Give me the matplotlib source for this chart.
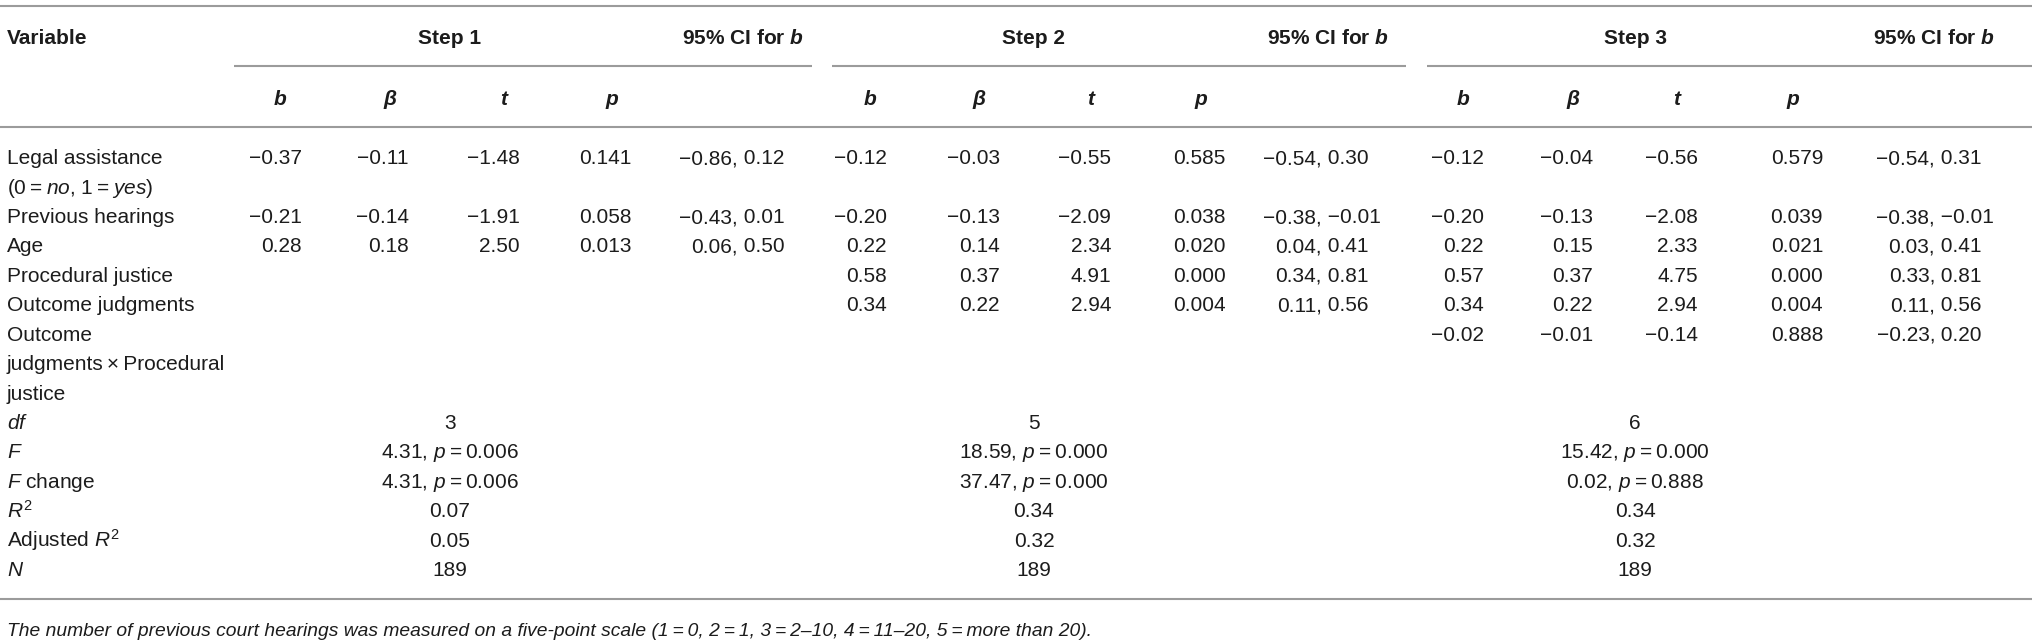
import matplotlib
matplotlib.use("Agg")
import matplotlib.pyplot as plt

# ---------------- data ----------------
var_labels = [
    ["Legal assistance", "(0\u2009=\u2009$\\mathit{no}$, 1\u2009=\u2009$\\mathit{yes}$)"],
    ["Previous hearings"],
    ["Age"],
    ["Procedural justice"],
    ["Outcome judgments"],
    ["Outcome", "judgments\u2009\u00d7\u2009Procedural", "justice"],
]
row_slots = [0, 2, 3, 4, 5, 6]   # line index of each variable row

step_names = ["Step 1", "Step 2", "Step 3"]
col_heads = ["b", "\u03b2", "t", "p"]

s1_b = [-0.37, -0.21, 0.28, None, None, None]
s1_beta = [-0.11, -0.14, 0.18, None, None, None]
s1_t = [-1.48, -1.91, 2.50, None, None, None]
s1_p = [0.141, 0.058, 0.013, None, None, None]
s1_ci = [(-0.86, 0.12), (-0.43, 0.01), (0.06, 0.50), None, None, None]

s2_b = [-0.12, -0.20, 0.22, 0.58, 0.34, None]
s2_beta = [-0.03, -0.13, 0.14, 0.37, 0.22, None]
s2_t = [-0.55, -2.09, 2.34, 4.91, 2.94, None]
s2_p = [0.585, 0.038, 0.020, 0.000, 0.004, None]
s2_ci = [(-0.54, 0.30), (-0.38, -0.01), (0.04, 0.41), (0.34, 0.81), (0.11, 0.56), None]

s3_b = [-0.12, -0.20, 0.22, 0.57, 0.34, -0.02]
s3_beta = [-0.04, -0.13, 0.15, 0.37, 0.22, -0.01]
s3_t = [-0.56, -2.08, 2.33, 4.75, 2.94, -0.14]
s3_p = [0.579, 0.039, 0.021, 0.000, 0.004, 0.888]
s3_ci = [(-0.54, 0.31), (-0.38, -0.01), (0.03, 0.41), (0.33, 0.81), (0.11, 0.56), (-0.23, 0.20)]

stat_labels = ["$\\mathit{df}$", "$\\mathit{F}$", "$\\mathit{F}$ change",
               "$\\mathit{R}^{2}$", "Adjusted $\\mathit{R}^{2}$", "$\\mathit{N}$"]
df_vals = [3, 5, 6]
F_vals = [4.31, 18.59, 15.42]
F_p = [0.006, 0.000, 0.000]
Fchange_vals = [4.31, 37.47, 0.02]
Fchange_p = [0.006, 0.000, 0.888]
R2_vals = [0.07, 0.34, 0.34]
adjR2_vals = [0.05, 0.32, 0.32]
N_vals = [189, 189, 189]

footnote = ("The number of previous court hearings was measured on a five-point scale "
            "(1\u2009=\u20090, 2\u2009=\u20091, 3\u2009=\u20092\u201310, 4\u2009=\u200911\u201320, "
            "5\u2009=\u2009more than 20).")

# ---------------- style ----------------
FAM = ["Liberation Sans", "DejaVu Sans"]
plt.rcParams["font.family"] = FAM
plt.rcParams["mathtext.fontset"] = "custom"
plt.rcParams["mathtext.rm"] = "Liberation Sans"
plt.rcParams["mathtext.it"] = "Liberation Sans:italic"
plt.rcParams["mathtext.bf"] = "Liberation Sans:bold"
try:
    plt.rcParams["mathtext.bfit"] = "Liberation Sans:italic:bold"
except KeyError:
    pass

FS = 15
TXT = "#1c1c1c"
LINE = "#9b9b9b"
LW = 1.5

W, H = 2032, 640
fig = plt.figure(figsize=(W / 100, H / 100), dpi=100)
ax = fig.add_axes([0, 0, 1, 1])
ax.set_xlim(0, W)
ax.set_ylim(H, 0)
ax.axis("off")

def fmt(v, nd=2):
    return f"{v:.{nd}f}".replace("-", "\u2212")

def put(x, yc, s, ha="left", **kw):
    kw.setdefault("fontsize", FS)
    kw.setdefault("color", TXT)
    ax.text(x, yc + 7.2, s, ha=ha, va="baseline", **kw)

# geometry
y_top, y_group, y_sub, y_head = 6, 66, 127, 599
y_var_head, y_col_head = 37, 98
row0, dy = 157, 29.43
x_label = 7

step_center = [450, 1034, 1635]
seg = [(234, 812), (832, 1406), (1427, W)]
col_right = [[302, 409, 520, 632], [887, 1000, 1111, 1226], [1484, 1593, 1698, 1823]]
col_head_x = [[280, 390, 504, 612], [870, 979, 1091, 1201], [1463, 1573, 1677, 1793]]
ci_comma = [738, 1322, 1935]
ci_head_x = [743, 1328, 1934]

# rules
for y in (y_top, y_sub, y_head):
    ax.plot([0, W], [y, y], color=LINE, lw=LW, solid_capstyle="butt")
for x0, x1 in seg:
    ax.plot([x0, x1], [y_group, y_group], color=LINE, lw=LW, solid_capstyle="butt")

# headers
put(x_label, y_var_head, "Variable", fontweight="bold")
for k in range(3):
    put(step_center[k], y_var_head, step_names[k], ha="center", fontweight="bold")
    put(ci_head_x[k], y_var_head, "95% CI for $\\mathbfit{b}$", ha="center", fontweight="bold")
    for j, h in enumerate(col_heads):
        put(col_head_x[k][j], y_col_head, h, ha="center", fontweight="bold", fontstyle="italic")

# variable labels
for lbls, slot in zip(var_labels, row_slots):
    for i, l in enumerate(lbls):
        put(x_label, row0 + (slot + i) * dy, l)

# coefficients
steps = [
    (s1_b, s1_beta, s1_t, s1_p, s1_ci),
    (s2_b, s2_beta, s2_t, s2_p, s2_ci),
    (s3_b, s3_beta, s3_t, s3_p, s3_ci),
]
for k, (bb, be, tt, pp, ci) in enumerate(steps):
    for r, slot in enumerate(row_slots):
        yc = row0 + slot * dy
        for j, (arr, nd) in enumerate([(bb, 2), (be, 2), (tt, 2), (pp, 3)]):
            if arr[r] is not None:
                put(col_right[k][j], yc, fmt(arr[r], nd), ha="right")
        if ci[r] is not None:
            lo, hi = ci[r]
            put(ci_comma[k], yc, fmt(lo) + ",", ha="right")
            put(ci_comma[k], yc, " " + fmt(hi), ha="left")

# model statistics
stat_start = 9
for i, l in enumerate(stat_labels):
    put(x_label, row0 + (stat_start + i) * dy, l)
for k in range(3):
    cells = [
        str(df_vals[k]),
        f"{fmt(F_vals[k])}, $\\mathit{{p}}$\u2009=\u2009{fmt(F_p[k], 3)}",
        f"{fmt(Fchange_vals[k])}, $\\mathit{{p}}$\u2009=\u2009{fmt(Fchange_p[k], 3)}",
        fmt(R2_vals[k]),
        fmt(adjR2_vals[k]),
        str(N_vals[k]),
    ]
    for i, c in enumerate(cells):
        put(step_center[k], row0 + (stat_start + i) * dy, c, ha="center")

# footnote
put(x_label, 629, footnote, fontstyle="italic", fontsize=13.9)

fig.savefig("out.png", dpi=100, facecolor="white")
